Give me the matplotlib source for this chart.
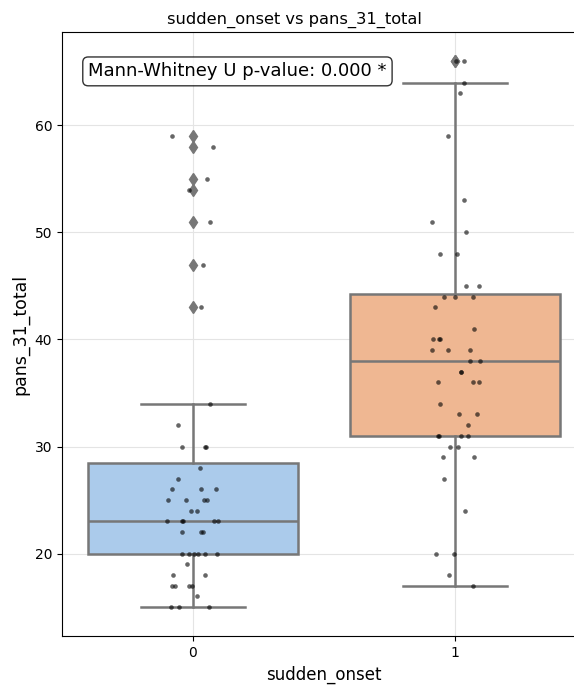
import numpy as np
import matplotlib
matplotlib.use("Agg")
import matplotlib.pyplot as plt

categories = ["0", "1"]
group0 = [15, 15, 15, 16, 17, 17, 17, 17, 18, 18, 19, 20, 20, 20, 20, 20, 20,
          22, 22, 22, 23, 23, 23, 23, 23, 24, 24, 25, 25, 25, 25, 26, 26, 26,
          27, 28, 30, 30, 30, 32, 34, 43, 47, 51, 54, 55, 58, 59]
group1 = [17, 18, 20, 20, 24, 27, 29, 29, 30, 30, 31, 31, 31, 31, 32, 33, 33,
          34, 36, 36, 36, 37, 37, 38, 38, 39, 39, 39, 40, 40, 40, 41, 43, 44,
          44, 44, 45, 45, 48, 48, 50, 51, 53, 59, 63, 64, 66, 66]
box_colors = ["#abcbeb", "#efb792"]
title = "sudden_onset vs pans_31_total"
xlabel = "sudden_onset"
ylabel = "pans_31_total"
annot = "Mann-Whitney U p-value: 0.000 *"

data = [group0, group1]
line_gray = "#777777"

fig = plt.figure(figsize=(5.74, 6.85), dpi=100)
ax = fig.add_axes([0.108, 0.0715, 0.9129, 0.8815])

positions = np.arange(len(categories))
bp = ax.boxplot(data, positions=positions, widths=0.8, patch_artist=True,
                medianprops=dict(color=line_gray, linewidth=1.8),
                whiskerprops=dict(color=line_gray, linewidth=1.8),
                capprops=dict(color=line_gray, linewidth=1.8),
                boxprops=dict(edgecolor=line_gray, linewidth=1.8),
                flierprops=dict(marker="d", markerfacecolor=line_gray,
                                markeredgecolor=line_gray, markersize=6.5,
                                linestyle="none"),
                zorder=2)
for patch, c in zip(bp["boxes"], box_colors):
    patch.set_facecolor(c)

rng = np.random.default_rng(3)
for i, vals in enumerate(data):
    xs = i + rng.uniform(-0.1, 0.1, size=len(vals))
    ax.scatter(xs, vals, s=11, color="black", alpha=0.6, linewidths=0, zorder=3)

ax.set_xticks(positions)
ax.set_xticklabels(categories)
ax.set_xlim(-0.5, 1.5)
ax.set_ylim(12.3, 68.7)
ax.grid(True, color="#e4e4e4", linewidth=0.8)
ax.set_axisbelow(True)
ax.tick_params(labelsize=10)
ax.set_title(title, fontsize=11.7, x=0.444)
ax.set_xlabel(xlabel, fontsize=12)
ax.set_ylabel(ylabel, fontsize=12.5)
ax.text(0.05, 0.95, annot, transform=ax.transAxes, fontsize=13, va="top",
        bbox=dict(boxstyle="round", facecolor="white", edgecolor="black", alpha=0.8))

fig.savefig("out.png", dpi=100)
